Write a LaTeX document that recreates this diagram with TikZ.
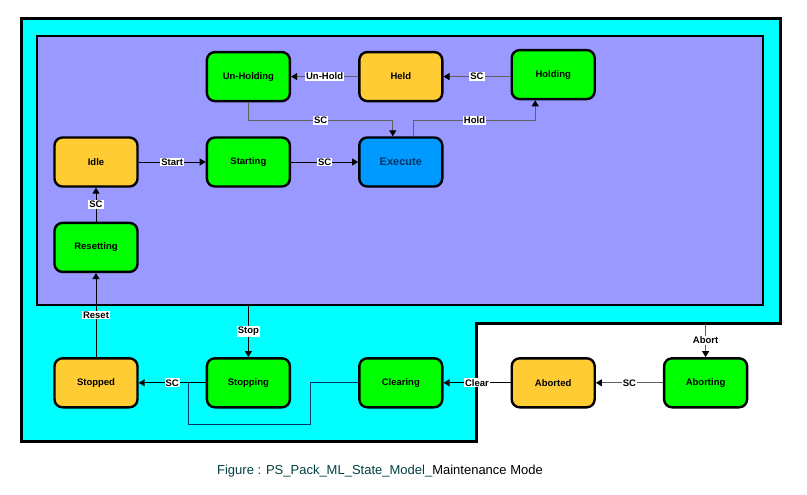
\documentclass[tikz,border=0pt]{standalone}
\usepackage{fontspec}
\setmainfont{Liberation Sans}
\usetikzlibrary{arrows.meta,positioning}
\definecolor{PMcyan}{RGB}{0,255,255}
\definecolor{PMpurple}{RGB}{153,153,255}
\definecolor{PMgreen}{RGB}{0,255,0}
\definecolor{PMorange}{RGB}{255,204,51}
\definecolor{PMblue}{RGB}{0,153,255}
\definecolor{PMnavy}{RGB}{0,51,102}
\definecolor{PMline}{RGB}{96,96,96}
\definecolor{PMteal}{RGB}{0,64,64}

\begin{document}
\begin{tikzpicture}[x=1pt, y=-1pt, node distance=34pt and 67pt, every node/.style={font=\fontsize{9.5}{11}\selectfont\bfseries}, state/.style={draw=black,line width=2.4pt,rounded corners=8pt,minimum width=83pt,minimum height=49pt,align=center}, lbl/.style={fill=white,inner sep=1pt,line width=0pt}, arr/.style={-{Triangle[length=6pt,width=7pt,color=black]},line width=1pt}]
\useasboundingbox (0,0) rectangle (807,495);
% frames
\draw[line width=3pt,fill=PMcyan] (21,19) -- (780,19) -- (780,323) -- (476,323) -- (476,441) -- (21,441) -- cycle;
\draw[line width=2.5pt,fill=PMpurple] (37,36) rectangle (763,305);
\coordinate (innerbot) at (0,306);
\coordinate (outerstep) at (0,324);
% states
\node[state,fill=PMorange] (idle) at (96,162) {Idle};
\node[state,fill=PMgreen,right=of idle] (starting) {Starting};
\node[state,fill=PMblue,right=of starting,font=\fontsize{11}{12}\selectfont\bfseries,text=PMnavy] (execute) {Execute};
\node[state,fill=PMgreen,above=of starting] (unholding) {Un-Holding};
\node[state,fill=PMorange,above=of execute] (held) {Held};
\node[state,fill=PMgreen,right=of held,yshift=2pt] (holding) {Holding};
\node[state,fill=PMgreen,below=of idle] (resetting) {Resetting};
\node[state,fill=PMorange,below=84pt of resetting] (stopped) {Stopped};
\node[state,fill=PMgreen,right=of stopped] (stopping) {Stopping};
\node[state,fill=PMgreen,right=of stopping] (clearing) {Clearing};
\node[state,fill=PMorange,right=of clearing] (aborted) {Aborted};
\node[state,fill=PMgreen,right=of aborted] (aborting) {Aborting};
\coordinate (stoptop) at (stopping.north |- innerbot);
\coordinate (aborttop) at (aborting.north |- outerstep);
% transitions
\draw[arr,PMline] (held) -- node[lbl,text=black]{Un-Hold} (unholding);
\draw[arr,PMline] (held.east -| holding.west) -- node[lbl,text=black]{SC} (held.east);
\draw[arr,PMline] (unholding.south) |- node[lbl,pos=0.75,text=black]{SC} ([xshift=-8pt,yshift=16pt]execute.north) -- ([xshift=-8pt]execute.north);
\draw[arr,PMline] ([xshift=13pt]execute.north) -- ++(0,-16) -| node[lbl,pos=0.25,text=black]{Hold} ([xshift=-18pt]holding.south);
\draw[arr] (idle) -- node[lbl]{Start} (starting);
\draw[arr] (starting) -- node[lbl]{SC} (execute);
\draw[arr] (resetting) -- node[lbl]{SC} (idle);
\draw[arr] (stopped) -- node[lbl]{Reset} (resetting);
\draw[arr] (stoptop) -- node[lbl]{Stop} (stopping);
\draw[arr] (stopping) -- node[lbl]{SC} (stopped);
\draw[PMnavy,line width=1pt] (clearing.west) -- ++(-48,0) -- ++(0,42) -| ([xshift=-17pt]stopping.west);
\draw[arr] (aborted) -- node[lbl]{Clear} (clearing);
\draw[arr,PMline] (aborting) -- node[lbl,text=black]{SC} (aborted);
\draw[arr,PMline] (aborttop) -- node[lbl,text=black]{Abort} (aborting);
% caption
\node[font=\fontsize{13}{15}\selectfont] (caption) at (380,471) {\textcolor{PMteal}{Figure : PS\_Pack\_ML\_State\_Model\_}Maintenance Mode};
\end{tikzpicture}
\end{document}
